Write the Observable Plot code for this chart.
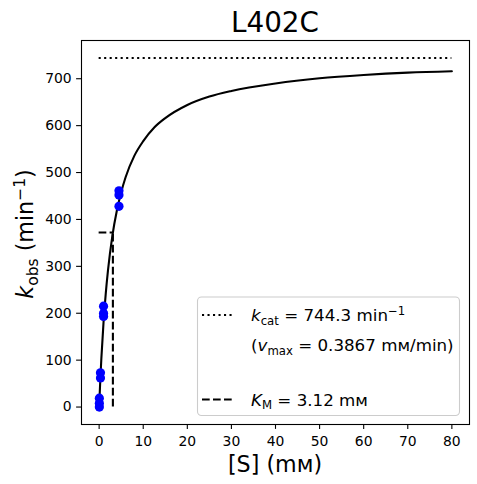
<!DOCTYPE html>
<html>
<head>
<meta charset="utf-8">
<script src="https://cdn.jsdelivr.net/npm/d3@7"></script>
<script src="https://cdn.jsdelivr.net/npm/@observablehq/plot@0.6"></script>
<style>
  html, body { margin: 0; padding: 0; background: white; }
  #chart svg { display: block; }
</style>
</head>
<body>
<div id="chart"></div>
<script>
// ---- data ----
const title = "L402C";
const obsS = [0.05, 0.05, 0.05, 0.3, 0.3, 1, 1, 1, 4.5, 4.5, 4.5];
const obsK = [0, 8, 19, 62, 73, 193, 200, 215, 428, 452, 461];
const curveS = [0, 0.25, 0.5, 1, 1.5, 2, 3, 4, 5, 6, 8, 10, 12.5, 15, 20, 25, 30, 40, 50, 60, 70, 80];
const curveK = [0, 55, 103, 181, 242, 291, 365, 418, 458, 490, 536, 567, 596, 616, 644, 662, 674, 690, 701, 708, 713, 716];
const kcat = 744.3;
const KM = 3.12;
const halfK = 372.15;
const sMax = 80;
const xTicks = [0, 10, 20, 30, 40, 50, 60, 70, 80];
const yTicks = [0, 100, 200, 300, 400, 500, 600, 700];

const obs = obsS.map((s, i) => ({s, k: obsK[i]}));
const curve = curveS.map((s, i) => ({s, k: curveK[i]}));

const W = 477, H = 484;
const font = "DejaVu Sans";

const plot = Plot.plot({
  width: W,
  height: H,
  marginLeft: 81,
  marginRight: 8,
  marginTop: 40,
  marginBottom: 60,
  style: {fontFamily: font, color: "black", background: "white", overflow: "visible"},
  x: {domain: [-4, 84]},
  y: {domain: [-37.215, 781.515]},
  marks: [
    Plot.ruleY([{y: kcat, x1: 0, x2: sMax}], {y: "y", x1: "x1", x2: "x2", stroke: "black", strokeWidth: 2.1, strokeDasharray: "2.1,3.4"}),
    Plot.ruleX([{x: KM, y1: 0, y2: halfK}], {x: "x", y1: "y1", y2: "y2", stroke: "black", strokeWidth: 2.1, strokeDasharray: "7.7,3.3"}),
    Plot.ruleY([{y: halfK, x1: 0, x2: KM}], {y: "y", x1: "x1", x2: "x2", stroke: "black", strokeWidth: 2.1, strokeDasharray: "7.7,3.3"}),
    Plot.line(curve, {x: "s", y: "k", stroke: "black", strokeWidth: 2.1, curve: "monotone-x"}),
    Plot.dot(obs, {x: "s", y: "k", r: 4.6, fill: "#0000ff", stroke: "none"}),
    Plot.frame({stroke: "black", strokeWidth: 1.1}),
    Plot.axisX({ticks: xTicks, tickSize: 4.9, tickPadding: 7, fontSize: 13.9, label: null, strokeWidth: 1.1}),
    Plot.axisY({ticks: yTicks, tickSize: 4.9, tickPadding: 4.9, fontSize: 13.9, label: null, strokeWidth: 1.1})
  ]
});

document.getElementById("chart").appendChild(plot);
const svg = d3.select(plot);

// title
svg.append("text")
  .attr("x", 275).attr("y", 32)
  .attr("text-anchor", "middle")
  .attr("font-family", font).attr("font-size", 27.8)
  .attr("fill", "black")
  .text(title);

// x label
svg.append("text")
  .attr("x", 275).attr("y", 472)
  .attr("text-anchor", "middle")
  .attr("font-family", font).attr("font-size", 22.2)
  .attr("fill", "black")
  .text("[S] (mᴍ)");

// y label
const yl = svg.append("text")
  .attr("transform", "translate(33,234) rotate(-90)")
  .attr("text-anchor", "middle")
  .attr("font-family", font).attr("font-size", 22.2)
  .attr("fill", "black");
yl.append("tspan").attr("font-style", "italic").text("k");
yl.append("tspan").attr("font-size", 15.5).attr("dy", 4.5).text("obs");
yl.append("tspan").attr("dy", -4.5).text(" (min");
yl.append("tspan").attr("font-size", 15.5).attr("dy", -8).text("−1");
yl.append("tspan").attr("dy", 8).text(")");

// legend
const lg = svg.append("g").attr("text-anchor", "start");
lg.append("rect")
  .attr("x", 197.5).attr("y", 297).attr("width", 262).attr("height", 118.5)
  .attr("rx", 4).attr("ry", 4)
  .attr("fill", "white").attr("fill-opacity", 0.8)
  .attr("stroke", "#cccccc").attr("stroke-width", 1.1);
lg.append("line")
  .attr("x1", 202).attr("x2", 235).attr("y1", 315).attr("y2", 315)
  .attr("stroke", "black").attr("stroke-width", 2.1).attr("stroke-dasharray", "2.1,3.4");
lg.append("line")
  .attr("x1", 202).attr("x2", 235).attr("y1", 399.5).attr("y2", 399.5)
  .attr("stroke", "black").attr("stroke-width", 2.1).attr("stroke-dasharray", "7.7,3.3");

const fs = 16.7, sfs = 11.7;
const t1 = lg.append("text").attr("x", 251).attr("y", 321).attr("text-anchor", "start")
  .attr("font-family", font).attr("font-size", fs).attr("fill", "black");
t1.append("tspan").attr("font-style", "italic").text("k");
t1.append("tspan").attr("font-size", sfs).attr("dy", 3.5).text("cat");
t1.append("tspan").attr("dy", -3.5).text(" = " + kcat.toFixed(1) + " min");
t1.append("tspan").attr("font-size", sfs).attr("dy", -6.5).text("−1");

const t2 = lg.append("text").attr("x", 251).attr("y", 351).attr("text-anchor", "start")
  .attr("font-family", font).attr("font-size", fs).attr("fill", "black");
t2.append("tspan").text("(");
t2.append("tspan").attr("font-style", "italic").text("v");
t2.append("tspan").attr("font-size", sfs).attr("dy", 3.5).text("max");
t2.append("tspan").attr("dy", -3.5).text(" = 0.3867 mᴍ/min)");

const t3 = lg.append("text").attr("x", 251).attr("y", 405.5).attr("text-anchor", "start")
  .attr("font-family", font).attr("font-size", fs).attr("fill", "black");
t3.append("tspan").attr("font-style", "italic").text("K");
t3.append("tspan").attr("font-size", sfs).attr("dy", 3.5).text("M");
t3.append("tspan").attr("dy", -3.5).text(" = " + KM.toFixed(2) + " mᴍ");
</script>
</body>
</html>
